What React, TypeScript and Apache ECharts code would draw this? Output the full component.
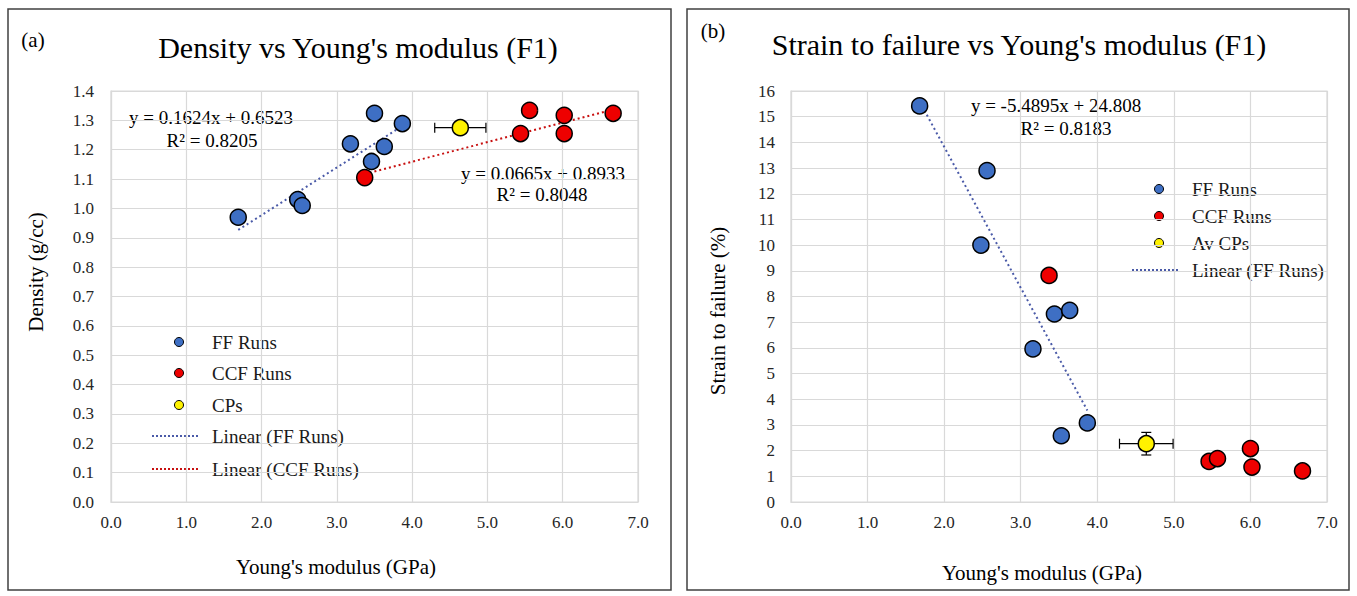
import React, { useEffect, useRef } from "react";
import * as echarts from "echarts";

// ---- Data (a) Density vs Young's modulus ----
const ffModulusA = [1.69, 2.48, 2.54, 3.18, 3.5, 3.87, 3.63, 3.46];
const ffDensityA = [0.97, 1.03, 1.01, 1.22, 1.324, 1.289, 1.211, 1.16];
const ccfModulusA = [3.37, 5.56, 6.02, 6.02, 5.44, 6.67];
const ccfDensityA = [1.105, 1.334, 1.317, 1.255, 1.255, 1.324];
const cpModulusA = [4.64];
const cpDensityA = [1.275];
const cpModulusErrA = [0.34];
const ffFitA = [0.1624, 0.6523];
const ccfFitA = [0.0665, 0.8933];

// ---- Data (b) Strain to failure vs Young's modulus ----
const ffModulusB = [1.68, 2.56, 2.48, 3.44, 3.64, 3.16, 3.87, 3.53];
const ffStrainB = [15.42, 12.9, 10.0, 7.32, 7.46, 5.96, 3.08, 2.58];
const ccfModulusB = [3.37, 5.46, 5.57, 6.0, 6.02, 6.68];
const ccfStrainB = [8.82, 1.58, 1.69, 2.08, 1.36, 1.21];
const cpModulusB = [4.64];
const cpStrainB = [2.27];
const cpModulusErrB = [0.35];
const cpStrainErrB = [0.44];
const ffFitB = [-5.4895, 24.808];

const xTicks = [0, 1, 2, 3, 4, 5, 6, 7];

const BLUE = "#3E6FC4";
const RED = "#EE0000";
const YELLOW = "#FFF200";
const FONT = "Liberation Serif";

function pairs(xs: number[], ys: number[]) {
  return xs.map((x, i) => [x, ys[i]]);
}
function fitLine(xs: number[], coef: number[]) {
  const lo = Math.min(...xs);
  const hi = Math.max(...xs);
  return [
    [lo, coef[0] * lo + coef[1]],
    [hi, coef[0] * hi + coef[1]],
  ];
}

function errRender(params: any, api: any) {
  const x = api.value(0);
  const y = api.value(1);
  const xe = api.value(2);
  const ye = api.value(3);
  const style = { stroke: "#000", lineWidth: 1.2 };
  const children: any[] = [];
  const cap = 5;
  if (xe > 0) {
    const a = api.coord([x - xe, y]);
    const b = api.coord([x + xe, y]);
    children.push({ type: "line", shape: { x1: a[0], y1: a[1], x2: b[0], y2: b[1] }, style });
    children.push({ type: "line", shape: { x1: a[0], y1: a[1] - cap, x2: a[0], y2: a[1] + cap }, style });
    children.push({ type: "line", shape: { x1: b[0], y1: b[1] - cap, x2: b[0], y2: b[1] + cap }, style });
  }
  if (ye > 0) {
    const a = api.coord([x, y - ye]);
    const b = api.coord([x, y + ye]);
    children.push({ type: "line", shape: { x1: a[0], y1: a[1], x2: b[0], y2: b[1] }, style });
    children.push({ type: "line", shape: { x1: a[0] - cap, y1: a[1], x2: a[0] + cap, y2: a[1] }, style });
    children.push({ type: "line", shape: { x1: b[0] - cap, y1: b[1], x2: b[0] + cap, y2: b[1] }, style });
  }
  return { type: "group", children };
}

function txt(x: number, y: number, text: string, size: number, extra: any = {}) {
  return {
    type: "text",
    x,
    y,
    ...extra,
    style: {
      text,
      fontFamily: FONT,
      fontSize: size,
      fill: "#000",
      align: "center",
      verticalAlign: "middle",
      ...(extra.style || {}),
    },
  };
}

function legendItems(x0: number, ys: number[], items: { label: string; kind: string; color: string }[]) {
  const els: any[] = [];
  items.forEach((it, i) => {
    const y = ys[i];
    if (it.kind === "dot") {
      els.push({
        type: "circle",
        shape: { cx: x0 + 27, cy: y, r: 4.5 },
        style: { fill: it.color, stroke: "#000", lineWidth: 1 },
      });
    } else {
      els.push({
        type: "line",
        shape: { x1: x0, y1: y, x2: x0 + 48, y2: y },
        style: { stroke: it.color, lineWidth: 2, lineDash: [2, 2] },
      });
    }
    els.push(txt(x0 + 60, y, it.label, 19, { style: { align: "left", fill: "#1a1a1a" } }));
  });
  return els;
}

export default function App() {
  const ref = useRef<HTMLDivElement>(null);
  useEffect(() => {
    const chart = echarts.init(ref.current!, null, { renderer: "svg" });
    const rich = { t: { fontFamily: FONT, fontSize: 17, color: "#262626" } };
    const axisLabel = { fontFamily: FONT, fontSize: 17, color: "#262626", rich };
    const splitLine = { show: true, lineStyle: { color: "#D9D9D9", width: 1.2 } };
    const axisLine = { show: true, lineStyle: { color: "#D9D9D9", width: 1.2 } };
    const dot = (color: string) => ({
      color,
      borderColor: "#000",
      borderWidth: 1.5,
      opacity: 1,
    });

    const option: any = {
      animation: false,
      backgroundColor: "#fff",
      textStyle: { fontFamily: FONT },
      grid: [
        { left: 111, top: 91, width: 527, height: 411, show: true, borderColor: "#D9D9D9", borderWidth: 1.2 },
        { left: 791, top: 91, width: 536, height: 411, show: true, borderColor: "#D9D9D9", borderWidth: 1.2 },
      ],
      xAxis: [0, 1].map((g) => ({
        type: "value",
        gridIndex: g,
        min: xTicks[0],
        max: xTicks[xTicks.length - 1],
        interval: 1,
        axisLine,
        axisTick: { show: false },
        splitLine,
        axisLabel: { ...axisLabel, margin: 12, formatter: (v: number) => `{t|${v.toFixed(1)}}` },
      })),
      yAxis: [
        {
          type: "value",
          gridIndex: 0,
          min: 0,
          max: 1.4,
          interval: 0.1,
          axisLine,
          axisTick: { show: false },
          splitLine,
          axisLabel: { ...axisLabel, margin: 17, formatter: (v: number) => `{t|${v.toFixed(1)}}` },
        },
        {
          type: "value",
          gridIndex: 1,
          min: 0,
          max: 16,
          interval: 1,
          axisLine,
          axisTick: { show: false },
          splitLine,
          axisLabel: { ...axisLabel, margin: 16, formatter: (v: number) => `{t|${v}}` },
        },
      ],
      series: [
        {
          name: "Linear (FF Runs)",
          type: "line",
          xAxisIndex: 0,
          yAxisIndex: 0,
          data: fitLine(ffModulusA, ffFitA),
          symbol: "none",
          lineStyle: { color: "#4A5AA8", width: 2, type: [2, 3] },
          z: 1,
        },
        {
          name: "Linear (CCF Runs)",
          type: "line",
          xAxisIndex: 0,
          yAxisIndex: 0,
          data: fitLine(ccfModulusA, ccfFitA),
          symbol: "none",
          lineStyle: { color: "#C81010", width: 2, type: [2, 3] },
          z: 1,
        },
        {
          type: "custom",
          xAxisIndex: 0,
          yAxisIndex: 0,
          renderItem: errRender,
          data: cpModulusA.map((x, i) => [x, cpDensityA[i], cpModulusErrA[i], 0]),
          z: 2,
        },
        { name: "FF Runs", type: "scatter", xAxisIndex: 0, yAxisIndex: 0, data: pairs(ffModulusA, ffDensityA), symbolSize: 16, itemStyle: dot(BLUE), z: 3 },
        { name: "CCF Runs", type: "scatter", xAxisIndex: 0, yAxisIndex: 0, data: pairs(ccfModulusA, ccfDensityA), symbolSize: 16, itemStyle: dot(RED), z: 3 },
        { name: "CPs", type: "scatter", xAxisIndex: 0, yAxisIndex: 0, data: pairs(cpModulusA, cpDensityA), symbolSize: 16, itemStyle: dot(YELLOW), z: 4 },

        {
          name: "Linear (FF Runs) b",
          type: "line",
          xAxisIndex: 1,
          yAxisIndex: 1,
          data: fitLine(ffModulusB, ffFitB),
          symbol: "none",
          lineStyle: { color: "#4A5AA8", width: 2, type: [2, 3] },
          z: 1,
        },
        {
          type: "custom",
          xAxisIndex: 1,
          yAxisIndex: 1,
          renderItem: errRender,
          data: cpModulusB.map((x, i) => [x, cpStrainB[i], cpModulusErrB[i], cpStrainErrB[i]]),
          z: 2,
        },
        { name: "FF Runs b", type: "scatter", xAxisIndex: 1, yAxisIndex: 1, data: pairs(ffModulusB, ffStrainB), symbolSize: 16, itemStyle: dot(BLUE), z: 3 },
        { name: "CCF Runs b", type: "scatter", xAxisIndex: 1, yAxisIndex: 1, data: pairs(ccfModulusB, ccfStrainB), symbolSize: 16, itemStyle: dot(RED), z: 3 },
        { name: "Av CPs", type: "scatter", xAxisIndex: 1, yAxisIndex: 1, data: pairs(cpModulusB, cpStrainB), symbolSize: 16, itemStyle: dot(YELLOW), z: 4 },
      ],
      graphic: [
        { type: "rect", shape: { x: 8, y: 9, width: 663, height: 581 }, style: { fill: "none", stroke: "#404040", lineWidth: 1.5 }, z: -1 },
        { type: "rect", shape: { x: 687, y: 9, width: 662, height: 581 }, style: { fill: "none", stroke: "#404040", lineWidth: 1.5 }, z: -1 },
        txt(33, 40, "(a)", 21),
        txt(713, 31, "(b)", 21),
        txt(358, 47, "Density vs Young's modulus (F1)", 30),
        txt(1019, 44, "Strain to failure vs Young's modulus (F1)", 30),
        txt(211, 117, "y = 0.1624x + 0.6523", 19),
        txt(212, 140, "R² = 0.8205", 19),
        txt(543, 173, "y = 0.0665x + 0.8933", 19),
        txt(542, 194, "R² = 0.8048", 19),
        txt(1056, 105, "y = -5.4895x + 24.808", 19),
        txt(1066, 128, "R² = 0.8183", 19),
        txt(336, 567, "Young's modulus (GPa)", 21),
        txt(1042, 573, "Young's modulus (GPa)", 21),
        txt(36, 272, "Density (g/cc)", 21, { rotation: Math.PI / 2 }),
        txt(718, 311, "Strain to failure (%)", 21, { rotation: Math.PI / 2 }),
        ...legendItems(152, [342, 373, 405, 436, 469], [
          { label: "FF Runs", kind: "dot", color: BLUE },
          { label: "CCF Runs", kind: "dot", color: RED },
          { label: "CPs", kind: "dot", color: YELLOW },
          { label: "Linear (FF Runs)", kind: "line", color: "#4A5AA8" },
          { label: "Linear (CCF Runs)", kind: "line", color: "#C81010" },
        ]),
        ...legendItems(1132, [189, 216, 243, 270], [
          { label: "FF Runs", kind: "dot", color: BLUE },
          { label: "CCF Runs", kind: "dot", color: RED },
          { label: "Av CPs", kind: "dot", color: YELLOW },
          { label: "Linear (FF Runs)", kind: "line", color: "#4A5AA8" },
        ]),
      ],
    };
    chart.setOption(option);
    return () => chart.dispose();
  }, []);
  return (
    <div
      ref={ref}
      style={{ position: "absolute", left: 0, top: 0, width: 1357, height: 596, background: "#fff" }}
    />
  );
}
